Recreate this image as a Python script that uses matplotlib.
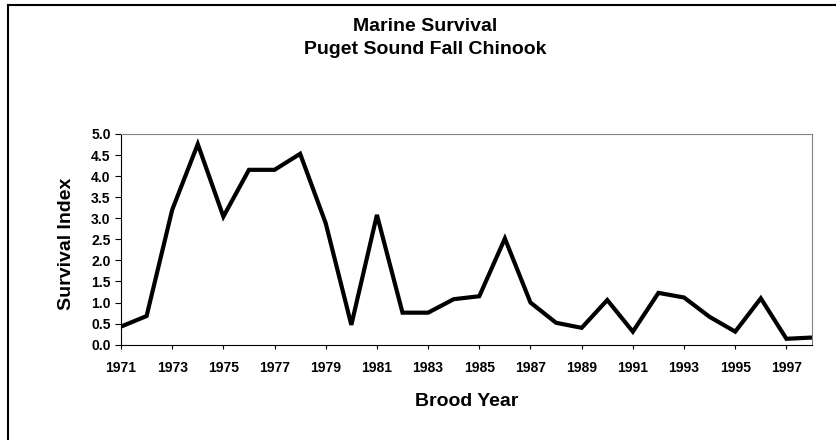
import matplotlib
matplotlib.use("Agg")
import matplotlib.pyplot as plt
from matplotlib.lines import Line2D

# brood years and marine survival index
years = list(range(1971, 1999))
survival = [0.43, 0.68, 3.20, 4.76, 3.04, 4.15, 4.15, 4.53, 2.88, 0.47,
            3.08, 0.76, 0.76, 1.08, 1.15, 2.52, 1.00, 0.52, 0.40, 1.06,
            0.31, 1.23, 1.12, 0.66, 0.31, 1.10, 0.14, 0.17]
xticks = list(range(1971, 1999, 2))
yticks = [0.0, 0.5, 1.0, 1.5, 2.0, 2.5, 3.0, 3.5, 4.0, 4.5, 5.0]

plt.rcParams['font.family'] = ['Liberation Sans', 'DejaVu Sans']
plt.rcParams['font.weight'] = 'bold'

W, H = 837, 440
fig = plt.figure(figsize=(W / 100, H / 100), dpi=100)
ax = fig.add_axes([121 / W, 1 - 344.7 / H, (812 - 121) / W, (344.7 - 134) / H])

ax.plot(years, survival, color='black', linewidth=3.0,
        solid_joinstyle='miter', solid_capstyle='butt')

ax.set_xlim(1971, 1998)
ax.set_ylim(0, 5)
ax.set_xticks(xticks)
ax.set_yticks(yticks)
ax.set_yticklabels(['%.1f' % v for v in yticks])

ax.tick_params(axis='x', direction='out', length=3, width=0.8, pad=8.5,
               labelsize=10)
ax.tick_params(axis='y', direction='out', length=4, width=0.8, pad=3.5,
               labelsize=10)
for lbl in ax.get_xticklabels() + ax.get_yticklabels():
    lbl.set_fontweight('bold')

for side in ['top', 'right']:
    ax.spines[side].set_color('#808080')
    ax.spines[side].set_linewidth(0.8)
for side in ['left', 'bottom']:
    ax.spines[side].set_color('black')
    ax.spines[side].set_linewidth(0.8)

# titles and axis labels
fig.text(425 / W, 1 - 38.3 / H, 'Marine Survival\nPuget Sound Fall Chinook',
         ha='center', va='center', fontsize=14, fontweight='bold',
         linespacing=1.45)
fig.text(67 / W, 1 - 244 / H, 'Survival Index', rotation=90,
         ha='center', va='center', fontsize=14, fontweight='bold')
fig.text(467 / W, 1 - 401.7 / H, 'Brood Year',
         ha='center', va='center', fontsize=14, fontweight='bold')

# outer chart border (left and top edges visible)
fig.add_artist(Line2D([8.5 / W, 8.5 / W], [0, 1 - 5 / H], color='black',
                      linewidth=1.5, transform=fig.transFigure))
fig.add_artist(Line2D([8.5 / W, 1], [1 - 5 / H, 1 - 5 / H], color='black',
                      linewidth=1.5, transform=fig.transFigure))

fig.savefig('out.png', dpi=100)
